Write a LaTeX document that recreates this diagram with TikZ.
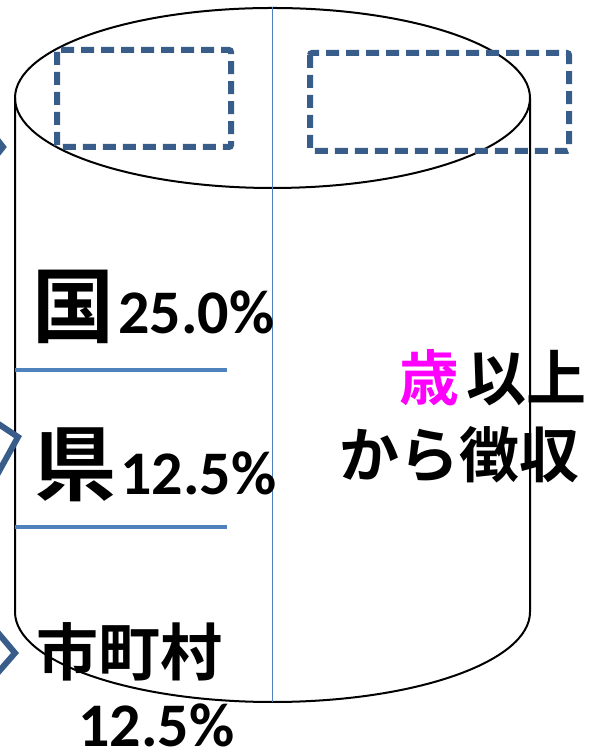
\documentclass[tikz,border=0pt]{standalone}
\usepackage{fontspec}
\newfontfamily\cjk{Noto Sans CJK JP Bold}
\newfontfamily\num{Carlito}[BoldFont={Carlito Bold}]
\definecolor{dkblue}{HTML}{385D8A}
\definecolor{ltblue}{HTML}{4F81BD}
\definecolor{mag}{HTML}{FF00FF}
\tikzset{
  outline/.style={draw=black,line width=2pt},
  dashbox/.style={draw=dkblue,line width=6pt,dash pattern=on 13pt off 7pt,rounded corners=2pt},
  sepline/.style={draw=ltblue,line width=4.5pt},
  axisline/.style={draw=ltblue,line width=1.6pt},
  chev/.style={draw=dkblue,line width=6pt},
  big/.style={inner sep=0pt,font=\cjk\fontsize{82}{82}\selectfont},
  mid/.style={inner sep=0pt,font=\cjk\fontsize{62}{62}\selectfont},
  rt/.style={inner sep=0pt,font=\cjk\fontsize{60}{60}\selectfont},
  pct/.style={inner sep=0pt,anchor=base west,font=\num\bfseries\fontsize{62}{62}\selectfont}
}
\begin{document}
\begin{tikzpicture}[x=1pt,y=1pt]
\useasboundingbox (0,0) rectangle (594,754);
\clip (0,0) rectangle (594,754);
% cylinder
\coordinate (ctop) at (272.5,656);
\coordinate (lt) at (15,656);
\coordinate (lb) at (15,142);
\coordinate (rt) at (530,656);
\coordinate (rb) at (530,142);
\draw[outline] (ctop) ellipse [x radius=257.5, y radius=90];
\draw[outline] (lt) -- (lb) arc[start angle=180,end angle=360,x radius=257.5,y radius=90] -- (rt);
% vertical axis
\coordinate (vt) at (272.5,747);
\coordinate (vb) at (272.5,52);
\draw[axisline] (vt) -- (vb);
% dashed boxes
\draw[dashbox] (57,704) rectangle (231,607);
\draw[dashbox] (310,701) rectangle (569,603);
% separator lines
\coordinate (s1a) at (15,384); \coordinate (s1b) at (227,384);
\coordinate (s2a) at (15,227); \coordinate (s2b) at (227,227);
\draw[sepline] (s1a) -- (s1b);
\draw[sepline] (s2a) -- (s2b);
% chevrons (cut off at left edge)
\draw[chev] (-15,630) -- (3,607) -- (-15,584);
\draw[chev] (-12,337) -- (18,317) -- (-8,270);
\draw[chev] (-12,133) -- (15,101) -- (-12,70);
% texts
\node[big] (kuni) at (73.5,447.5) {国};
\node[pct] (p1) at (118,420) {25.0\%};
\node[big] (ken) at (75,289) {県};
\node[pct] (p2) at (120,259) {12.5\%};
\node[mid] (shi) at (129,102) {市町村};
\node[pct] (p3) at (78,7) {12.5\%};
\node[rt,text=mag] (sai) at (429,376) {歳};
\node[rt] (ijo) at (526,376) {以上};
\node[rt] (kara) at (459,299) {から徴収};
\end{tikzpicture}
\end{document}
